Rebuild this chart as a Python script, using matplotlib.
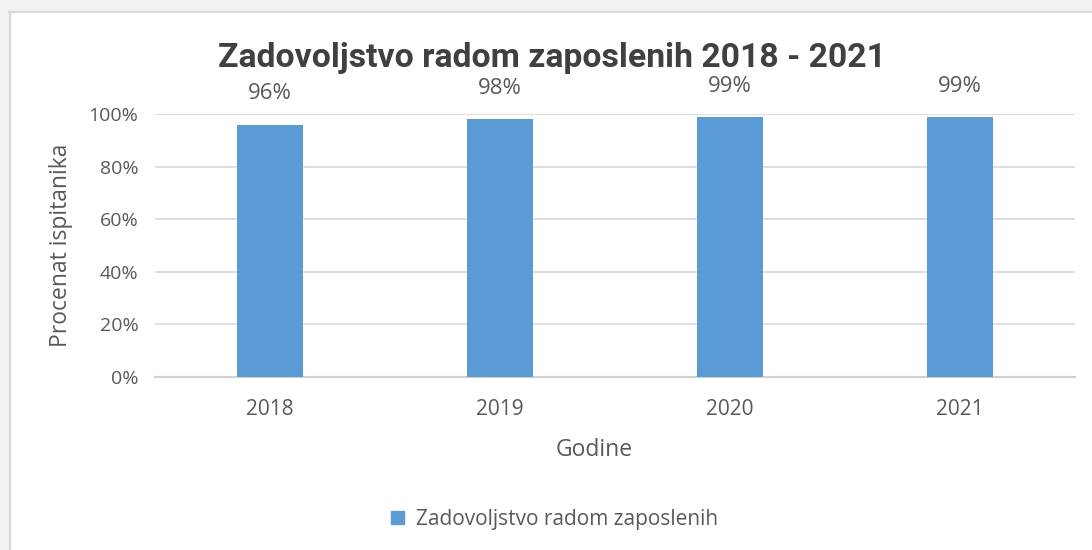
import matplotlib
matplotlib.use("Agg")
import matplotlib.pyplot as plt
from matplotlib.patches import Rectangle
from matplotlib.ticker import PercentFormatter, MultipleLocator

categories = ["2018", "2019", "2020", "2021"]
values = [96, 98, 99, 99]
labels = ["96%", "98%", "99%", "99%"]
series_name = "Zadovoljstvo radom zaposlenih"

plt.rcParams['font.family'] = ['Open Sans', 'DejaVu Sans']
txt = '#595959'
fig = plt.figure(figsize=(10.92, 5.5), dpi=100)
fig.patch.set_facecolor('white')
# outer gray frame
fig.add_artist(Rectangle((0, 0.98), 1, 0.02, transform=fig.transFigure, color='#f2f2f2', zorder=0))
fig.add_artist(Rectangle((0, 0), 0.0085, 1, transform=fig.transFigure, color='#f2f2f2', zorder=0))
fig.add_artist(plt.Line2D([0.0085, 1], [0.979, 0.979], transform=fig.transFigure, color='#d9d9d9', lw=1.5))
fig.add_artist(plt.Line2D([0.0092, 0.0092], [0, 0.979], transform=fig.transFigure, color='#d9d9d9', lw=1.5))

ax = fig.add_axes([155/1092, 1 - 377/550, 920/1092, 263/550])
x = list(range(len(categories)))
ax.bar(x, values, width=0.29, color='#5b9bd5', zorder=3)
ax.set_xlim(-0.5, len(categories) - 0.5)
ax.set_ylim(0, 100)
ax.yaxis.set_major_locator(MultipleLocator(20))
ax.yaxis.set_major_formatter(PercentFormatter(decimals=0))
ax.set_xticks(x)
ax.set_xticklabels(categories)
ax.grid(axis='y', color='#d9d9d9', lw=1.2, zorder=0)
for s in ['top', 'right', 'left']:
    ax.spines[s].set_visible(False)
ax.spines['bottom'].set_color('#d0d0d0')
ax.spines['bottom'].set_linewidth(1.5)
ax.tick_params(axis='both', length=0, colors=txt)
ax.tick_params(axis='y', labelsize=14, pad=12)
ax.tick_params(axis='x', labelsize=15, pad=16)
for xi, v, lab in zip(x, values, labels):
    ax.annotate(lab, (xi, v), xytext=(0, 22), textcoords='offset points',
                ha='center', va='center', fontsize=16, color=txt)
ax.set_ylabel("Procenat ispitanika", fontsize=16.5, color=txt)
ax.yaxis.set_label_coords(-(155 - 73) / 920, 0.5)
ax.set_xlabel("Godine", fontsize=16.5, color=txt)
ax.xaxis.set_label_coords((594 - 155) / 920, -(438 - 377) / 263)
fig.text(552/1092, 1 - 58/550, "Zadovoljstvo radom zaposlenih 2018 - 2021",
         ha='center', va='center', fontsize=24.3, fontweight='bold', color='#404040',
         family=['Roboto', 'DejaVu Sans'])
leg = ax.legend([Rectangle((0, 0), 1, 1, color='#5b9bd5')], [series_name],
                loc='center', bbox_to_anchor=(555/1092, 1 - 519/550), bbox_transform=fig.transFigure,
                frameon=False, fontsize=15, handlelength=0.6, handleheight=0.6, handletextpad=0.6)
for t in leg.get_texts():
    t.set_color(txt)
fig.savefig("out.png", dpi=100)
